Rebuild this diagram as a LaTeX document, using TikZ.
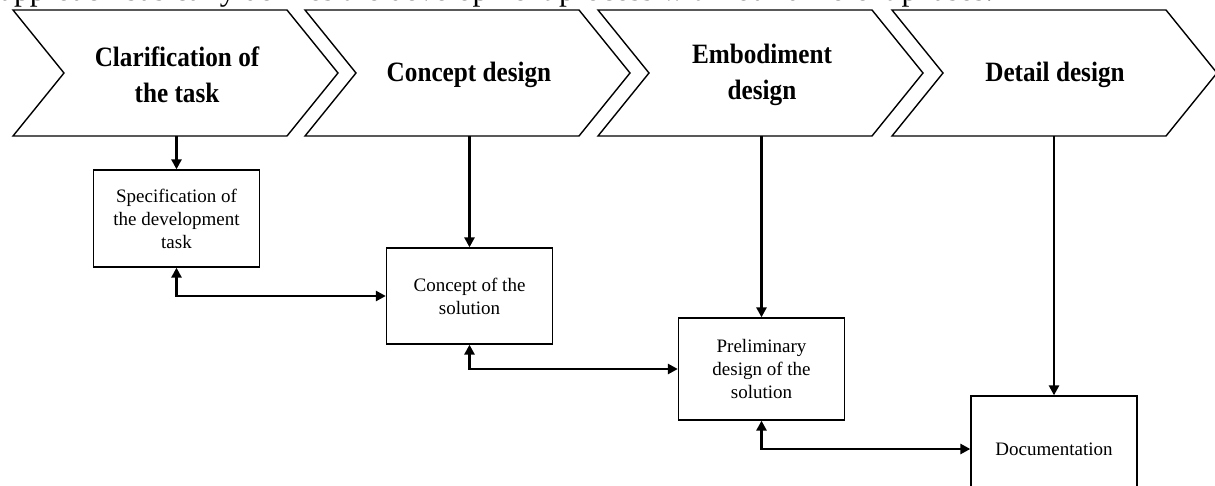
\documentclass[tikz,border=0pt]{standalone}
\usepackage{fontspec}
\setmainfont{Liberation Serif}
\usetikzlibrary{arrows.meta}
\tikzset{
  chev/.style={draw=black, line width=1.4pt, line join=miter},
  chevtext/.style={font=\fontsize{28}{36}\selectfont\bfseries, align=center, xscale=0.9, inner sep=0pt},
  stagebox/.style={draw=black, line width=1.3pt, minimum width=166pt, align=center, inner sep=0pt,
    font=\fontsize{19}{23}\selectfont},
  down/.style={line width=2.8pt, -{Triangle[length=10pt,width=10pt]}},
  both/.style={line width=2.8pt, {Triangle[length=10pt,width=10pt]}-{Triangle[length=10pt,width=10pt]}}
}
\begin{document}
\begin{tikzpicture}[x=1pt,y=-1pt]
\useasboundingbox (0,0) rectangle (1215,486);
\clip (0,0) rectangle (1215,486);
% cut-off text line at the top
\node[anchor=base west, inner sep=0pt, font=\fontsize{31.5}{36}\selectfont] (intro) at (0,1)
  {approach basically defines the development process with four different phases.};
% chevrons
\foreach \i/\l in {0/13,1/305,2/598,3/892}{
  \draw[chev] (\l,10) -- (\l+274,10) -- (\l+325,73) -- (\l+274,136) -- (\l,136) -- (\l+51,73) -- cycle;
}
\node[chevtext] (p1) at (177,75) {Clarification of\\the task};
\node[chevtext] (p2) at (469,75) {Concept design};
\node[chevtext] (p3) at (762,75) {Embodiment\\design};
\node[chevtext] (p4) at (1055,75) {Detail design};
\coordinate (c1) at (176.5,136);
\coordinate (c2) at (469.5,136);
\coordinate (c3) at (761.5,136);
\coordinate (c4) at (1054,136);
% boxes
\node[stagebox, minimum height=97pt] (b1) at (176.5,218.5) {Specification of\\the development\\task};
\node[stagebox, minimum height=96pt] (b2) at (469.5,296) {Concept of the\\solution};
\node[stagebox, minimum height=102pt] (b3) at (761.5,369) {Preliminary\\design of the\\solution};
\node[stagebox, minimum height=106pt] (b4) at (1054,449) {Documentation};
% connectors
\draw[down] (c1) -- (b1.north);
\draw[down] (c2) -- (b2.north);
\draw[down] (c3) -- (b3.north);
\draw[down] (c4) -- (b4.north);
\draw[both] (b1.south) |- (b2.west);
\draw[both] (b2.south) |- (b3.west);
\draw[both] (b3.south) |- (b4.west);
\end{tikzpicture}
\end{document}
